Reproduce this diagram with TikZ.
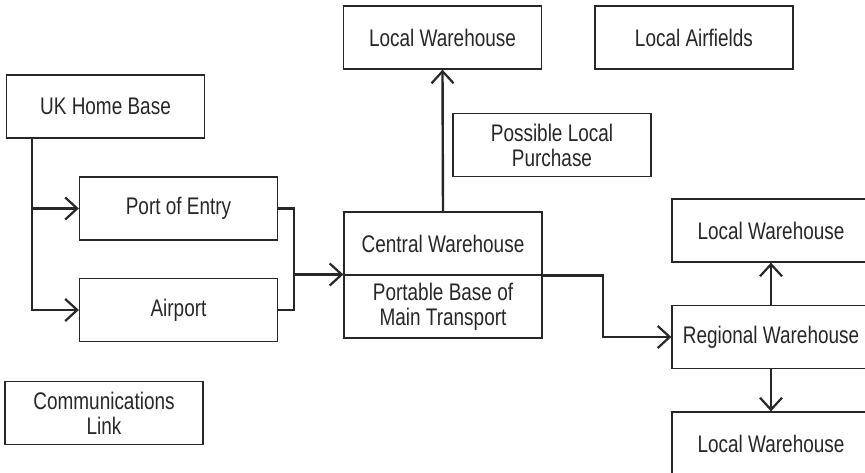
\documentclass[tikz,border=0pt]{standalone}
\usepackage{fontspec}
\setmainfont[FakeStretch=0.79]{Liberation Sans}
\usepackage{tikz}
\usetikzlibrary{arrows.meta,positioning,calc}
\definecolor{linegray}{RGB}{40,38,38}

\begin{document}
\begin{tikzpicture}[x=1pt,y=-1pt,
    box/.style={draw=linegray,line width=1.3pt,minimum width=198pt,minimum height=63pt,
      inner sep=2pt,align=center,text=linegray,font=\fontsize{24}{25}\selectfont},
    conn/.style={draw=linegray,line width=2.4pt},
    arr/.style={conn,-{Straight Barb[length=12pt,width=22pt,line width=2.2pt]}}]
    \clip (0,0) rectangle (865,473);
    % left column
    \node[box] (home) at (105.5,106.5) {UK Home Base};
    \node[box] (port) at (178.5,208.5) {Port of Entry};
    \node[box] (air) at (178.5,310) {Airport};
    \node[box] (comms) at (104,413) {Communications\\Link};
    % centre
    \node[box] (lwtop) at (442.5,37.5) {Local Warehouse};
    \node[box] (airf) at (694,37.5) {Local Airfields};
    \node[box] (plp) at (552,145) {Possible Local\\Purchase};
    \node[box] (cwh) at (443,243.5) {Central Warehouse};
    \node[box,below=-1.3pt of cwh] (pbase) {Portable Base of\\Main Transport};
    % right column
    \node[box] (lwr1) at (771,230.5) {Local Warehouse};
    \node[box] (reg) at (771,337) {Regional Warehouse};
    \node[box] (lwr2) at (771,443.5) {Local Warehouse};
    \coordinate (jn) at (294,274.5);
    \coordinate (elb) at (603,337);
    \draw[arr] ([xshift=26pt]home.south west) |- (port.west);
    \draw[arr] ([xshift=26pt]home.south west) |- (air.west);
    \draw[conn] (port.east) -| (jn) |- (air.east);
    \draw[arr] (jn) -- (jn -| cwh.west);
    \draw[arr] (cwh.north) -- (lwtop.south);
    \draw[arr] (cwh.south east) -| (elb) -- (reg.west);
    \draw[arr] (reg.north) -- (lwr1.south);
    \draw[arr] (reg.south) -- (lwr2.north);
\end{tikzpicture}
\end{document}
